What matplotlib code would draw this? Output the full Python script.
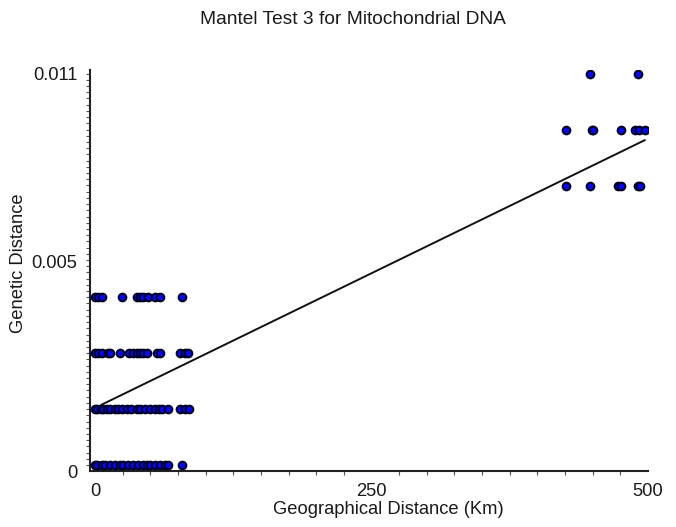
import numpy as np
import matplotlib
matplotlib.use("Agg")
import matplotlib.pyplot as plt
from matplotlib.ticker import MultipleLocator

plt.rcParams["font.family"] = ["Liberation Sans", "DejaVu Sans"]

# genetic distance levels (discrete mtDNA distances)
LEVELS = [0.0, 0.00156, 0.00311, 0.00467, 0.00778, 0.00933, 0.0109]

# geographical distance (km) of the points on each level
geo_l0 = [0, 2, 6, 9, 14, 18, 23, 25, 30, 34, 39, 43, 47, 50, 54, 59, 63, 66, 79]
geo_l1 = [0, 2, 5, 7, 11, 14, 18, 21, 24, 29, 33, 38, 41, 45, 50, 54, 58, 61, 66,
          77, 81, 85]
geo_l2 = [0, 3, 6, 12, 14, 23, 31, 34, 38, 41, 43, 47, 56, 59, 77, 81, 84]
geo_l3 = [0, 3, 6, 24, 38, 41, 43, 48, 54, 59, 79]
geo_l4 = [426, 448, 473, 476, 491, 493]
geo_l5 = [426, 449, 450, 476, 488, 492, 497]
geo_l6 = [448, 491]

# regression line
LINE_X = [6, 497]
INTERCEPT = 0.00159
SLOPE = 1.5e-5

XTICKS = [0, 250, 500]
XTICK_LABELS = ["0", "250", "500"]
YTICKS = [-0.000167, 0.00567, 0.0109]
YTICK_LABELS = ["0", "0.005", "0.011"]

TXT = "#1a1a1a"
FS = 13.2

fig = plt.figure(figsize=(6.76, 5.27), dpi=100)
ax = fig.add_axes([90 / 676, 1 - 471 / 527, 558 / 676, 401 / 527])

groups = [geo_l0, geo_l1, geo_l2, geo_l3, geo_l4, geo_l5, geo_l6]
for lvl, xs in zip(LEVELS, groups):
    ax.scatter(xs, [lvl] * len(xs), s=30, c="#0808f0", edgecolors="#00002a",
               linewidths=1.5, zorder=3)

lx = np.array(LINE_X, dtype=float)
ax.plot(lx, INTERCEPT + SLOPE * lx, color="#111111", lw=1.4, zorder=2)

ax.set_xlim(-4.5, 500)
ax.set_ylim(-0.000167, 0.011)

for s in ("top", "right"):
    ax.spines[s].set_visible(False)
for s in ("left", "bottom"):
    ax.spines[s].set_linewidth(1.5)
    ax.spines[s].set_color("#222222")

ax.set_xticks(XTICKS, XTICK_LABELS)
ax.set_yticks(YTICKS, YTICK_LABELS)
ax.xaxis.set_minor_locator(MultipleLocator(25))
ax.yaxis.set_minor_locator(MultipleLocator(0.000173))
ax.tick_params(axis="both", which="major", length=0, labelsize=FS,
               labelcolor=TXT)
ax.tick_params(axis="x", which="major", pad=9)
ax.tick_params(axis="y", which="major", pad=9)
ax.tick_params(which="minor", length=3, width=0.8, color="#555555")

ax.set_xlabel("Geographical Distance (Km)", fontsize=FS, color=TXT,
              va="center")
ax.xaxis.set_label_coords((388 - 90) / 558, (471 - 510) / 401)
ax.set_ylabel("Genetic Distance", fontsize=FS, color=TXT, va="center")
ax.yaxis.set_label_coords((18 - 90) / 558, (471 - 263) / 401)

fig.text(353 / 676, 1 - 20 / 527, "Mantel Test 3 for Mitochondrial DNA",
         ha="center", va="center", fontsize=13.8, color=TXT)

fig.savefig("out.png", dpi=100)
